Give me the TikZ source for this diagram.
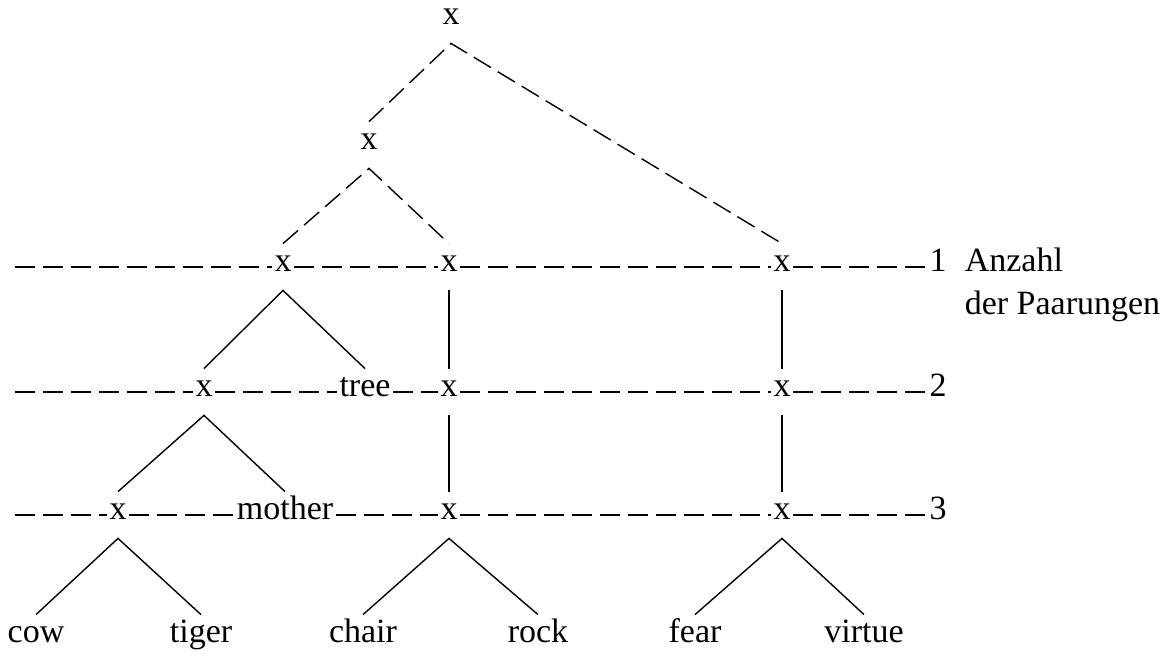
\documentclass[tikz,border=0pt]{standalone}
\usepackage{fontspec}
\setmainfont{Liberation Serif}
\usetikzlibrary{positioning}

\begin{document}
\begin{tikzpicture}[
	x=0.5pt, y=-0.5pt,
	font=\fontsize{17}{20}\selectfont,
	pt/.style={inner xsep=1.2pt, inner ysep=0pt, minimum height=23pt, text height=1ex, text depth=0pt},
	hdash/.style={dash pattern=on 10pt off 4pt, line width=0.7pt},
	branch/.style={line width=0.7pt}
	]
	\useasboundingbox (0,0) rectangle (1175,655);

	% upper part of the tree
	\node (top) [pt] at (451,20) {x};
	\node (mid) [pt] at (369,145) {x};

	% level 1
	\coordinate (s1) at (15,267);
	\node (a1) [pt] at (283,267) {x};
	\node (c1) [pt] at (449,267) {x};
	\node (r1) [pt] at (782,267) {x};
	\node (n1) [pt] at (938,267) {1};
	\node (anz) [pt, anchor=west] at (962,267) {Anzahl};
	\node (paar) [pt, below=-2pt of anz.south west, anchor=north west] {der Paarungen};

	% level 2
	\coordinate (s2) at (15,392);
	\node (b2) [pt] at (204,392) {x};
	\node (tree) [pt] at (365,392) {tree};
	\node (c2) [pt] at (449,392) {x};
	\node (r2) [pt] at (782,392) {x};
	\node (n2) [pt] at (938,392) {2};

	% level 3
	\coordinate (s3) at (15,515);
	\node (m3) [pt] at (118,515) {x};
	\node (mother) [pt] at (285,515) {mother};
	\node (c3) [pt] at (449,515) {x};
	\node (r3) [pt] at (782,515) {x};
	\node (n3) [pt] at (938,515) {3};

	% words
	\node (cow) [pt] at (36,638) {cow};
	\node (tiger) [pt] at (201,638) {tiger};
	\node (chair) [pt] at (363,638) {chair};
	\node (rock) [pt] at (538,638) {rock};
	\node (fear) [pt] at (695,638) {fear};
	\node (virtue) [pt] at (864,638) {virtue};

	\draw [hdash] (s1) -- (a1) -- (c1) -- (r1) -- (n1);
	\draw [hdash] (s2) -- (b2) -- (tree) -- (c2) -- (r2) -- (n2);
	\draw [hdash] (s3) -- (m3) -- (mother) -- (c3) -- (r3) -- (n3);

	\draw [hdash] (mid.north) -- (top.south) -- (r1.north);
	\draw [hdash] (a1.north) -- (mid.south) -- (c1.north);

	\draw [branch] (b2.north) -- (a1.south) -- (tree.north);
	\draw [branch] (m3.north) -- (b2.south) -- (mother.north);
	\draw [branch] (c1.south) -- (c2.north);
	\draw [branch] (c2.south) -- (c3.north);
	\draw [branch] (r1.south) -- (r2.north);
	\draw [branch] (r2.south) -- (r3.north);

	\draw [branch] (cow.north) -- (m3.south) -- (tiger.north);
	\draw [branch] (chair.north) -- (c3.south) -- (rock.north);
	\draw [branch] (fear.north) -- (r3.south) -- (virtue.north);

\end{tikzpicture}
\end{document}
